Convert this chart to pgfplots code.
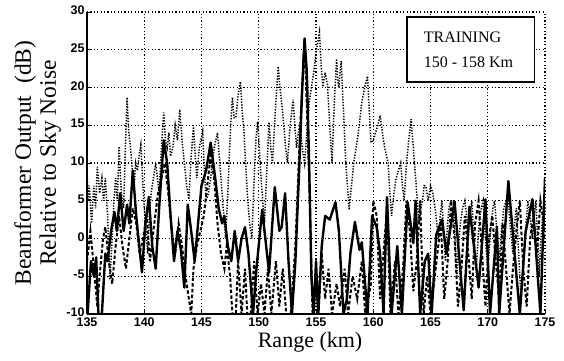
\documentclass[border=0pt]{standalone}
\usepackage{pgfplots}
\pgfplotsset{compat=1.18}
\usepackage{fontspec}
\setmainfont{Liberation Serif}
\newfontfamily\ticksans{Liberation Sans}
\begin{document}
\begin{tikzpicture}
\path[use as bounding box] (-87pt,-46pt) rectangle (477pt,314pt);
\begin{axis}[
  at={(0pt,0pt)}, anchor=south west,
  scale only axis, width=458pt, height=302pt,
  xmin=135, xmax=175, ymin=-10, ymax=30,
  xtick={135,140,...,175}, ytick={-10,-5,...,30},
  axis x line*=bottom, axis y line*=left,
  axis line style={line width=1.6pt,-},
  grid=major,
  major grid style={black, line width=1.2pt, dash pattern=on 1.2pt off 2.2pt},
  tick style={black, line width=1pt},
  major tick length=3pt,
  tick align=inside,
  /pgf/number format/assume math mode=true,
  ticklabel style={font=\ticksans\bfseries\fontsize{12.5}{12.5}\selectfont},
  xticklabel style={yshift=-0.5pt},
  yticklabel style={xshift=1pt, yshift=1.5pt},
  xlabel={Range (km)},
  xlabel style={at={(axis description cs:0.487,-0.095)}, anchor=center, font=\fontsize{22}{24}\selectfont},
  ylabel={Beamformer Output~~(dB)\\Relative to Sky Noise},
  ylabel style={at={(axis description cs:-0.108,0.5)}, anchor=center, align=center, font=\fontsize{23.5}{25}\selectfont},
  clip=true,
]
% dotted series
\addplot[black, line width=1.5pt, dash pattern=on 1.3pt off 1.5pt] coordinates {
(135.0,9) (135.1,5) (135.2,7) (135.4,2) (135.6,7) (135.75,4) (135.9,9.5) (136.1,6) (136.3,8) (136.45,5) (136.6,8) (136.8,3) (137.0,-5.5) (137.2,0) (137.35,5) (137.5,8) (137.65,5) (137.8,12.2) (138.0,6) (138.2,4) (138.35,12) (138.5,18.7) (138.65,14) (138.8,12) (139.1,6.5) (139.25,10) (139.4,9) (139.55,11) (139.7,12.4) (140.0,4) (140.3,-2) (140.45,3) (140.6,6) (140.8,8) (141.0,10) (141.3,6) (141.5,12) (141.7,16.7) (141.85,13) (142.0,12) (142.15,14) (142.3,10.9) (142.5,12) (142.7,15) (142.9,13) (143.1,17.1) (143.3,13) (143.5,10) (143.7,7) (143.9,5.2) (144.1,11) (144.3,14.8) (144.45,11) (144.6,8) (144.8,12) (145.1,14.2) (145.25,9) (145.4,5) (145.6,6) (145.8,8) (146.1,12) (146.4,14) (146.6,10) (146.8,6) (147.1,0) (147.3,6) (147.4,10) (147.55,15) (147.7,18.7) (147.85,16) (148.0,16) (148.2,19) (148.4,20.8) (148.55,17) (148.7,14.4) (148.85,10) (149.0,6) (149.2,2) (149.4,0) (149.6,8) (149.75,13) (149.9,15.5) (150.05,12) (150.2,8) (150.5,2) (150.7,9) (150.9,15.4) (151.05,12) (151.2,10) (151.45,17) (151.7,22.8) (151.85,20) (152.0,18) (152.2,14.8) (152.35,12) (152.5,10) (152.75,15) (153.0,18.4) (153.15,15) (153.3,12) (153.45,14) (153.6,15) (153.8,12) (154.0,10) (154.2,14) (154.4,18) (154.6,20) (154.8,22) (155.05,25) (155.3,27.3) (155.45,23) (155.6,20.1) (155.8,22) (156.0,20.4) (156.2,15) (156.4,10) (156.6,18) (156.8,23.8) (156.9,21) (157.0,20) (157.1,22) (157.2,23.5) (157.3,20) (157.4,17) (157.6,10) (157.9,3.8) (158.1,7) (158.3,10) (158.5,12) (158.7,14) (158.85,16) (159.0,18) (159.25,20) (159.5,21.5) (159.65,17) (159.8,12.7) (160.0,13) (160.2,14) (160.4,15) (160.6,16.3) (160.8,14) (161.0,12) (161.15,11) (161.3,10) (161.45,6) (161.6,3) (161.8,6) (162.0,8) (162.2,9) (162.4,10) (162.55,7) (162.7,5) (162.9,10) (163.1,13) (163.3,15.8) (163.5,12) (163.7,8) (163.85,5) (164.0,2) (164.15,4) (164.3,5) (164.45,7) (164.6,6.9) (164.8,5) (165.0,7) (165.2,6) (165.4,4) (165.55,2) (165.7,0) (165.85,3) (166.0,5) (166.15,1) (166.3,-3) (166.45,1) (166.6,4) (166.8,5) (167.0,5) (167.15,0) (167.3,-5) (167.45,-1) (167.6,2) (167.8,4) (168.0,5) (168.15,3) (168.3,0) (168.45,3) (168.6,5) (168.8,0) (169.0,-4) (169.15,0) (169.3,3) (169.45,4) (169.6,5) (169.8,0) (170.0,-4) (170.15,-1) (170.3,2) (170.45,4) (170.6,5) (170.8,1) (171.0,-3) (171.2,1) (171.4,4) (171.6,5) (171.8,5) (172.0,1) (172.2,-2) (172.35,2) (172.5,4) (172.7,-2) (172.9,-8) (173.05,-5) (173.2,-2) (173.35,2) (173.5,5) (173.7,3) (173.9,0) (174.05,3) (174.2,5) (174.35,0) (174.5,-5) (174.65,0) (174.8,3) (175.0,5)
};
% dashed series
\addplot[black, line width=2pt, dash pattern=on 3.5pt off 2.2pt] coordinates {
(135.0,-3) (135.3,1) (135.6,-4) (135.9,-9) (136.1,-5) (136.4,0) (136.6,1.5) (136.9,-3) (137.2,-6) (137.5,-1) (137.8,3) (138.1,-1) (138.4,-4) (138.7,0) (139.0,4) (139.3,2) (139.6,-2) (139.9,0) (140.2,3) (140.5,-3) (140.8,1) (141.2,6) (141.5,8) (141.8,10) (142.1,6) (142.4,1) (142.7,-2) (143.0,2) (143.3,-1) (143.6,-5) (143.9,-8) (144.1,-10) (144.3,-4) (144.6,-1) (144.9,1) (145.2,3) (145.5,7) (145.8,11) (146.1,8) (146.4,2) (146.7,-2) (147.0,-4) (147.2,-1) (147.5,-5) (147.7,-10) (148.0,-10) (148.2,-3) (148.5,-10) (148.8,-4) (149.0,-10) (149.3,-10) (149.6,-3) (149.9,-10) (150.2,-6) (150.5,-10) (150.8,-4) (151.1,-10) (151.5,-3) (151.8,-9) (152.1,-4) (152.4,-10) (152.8,-10) (153.2,-1) (153.6,14) (153.9,23.5) (154.1,22) (154.4,8) (154.7,-10) (155.0,-6) (155.2,-10) (155.5,-2) (155.8,-8) (156.1,-4) (156.4,-10) (156.8,-6) (157.1,-9) (157.5,-4) (157.8,-10) (158.2,-5) (158.6,-8) (159.0,-3) (159.3,-10) (159.8,-6) (160.0,5) (160.3,3) (160.6,-8) (160.9,-2) (161.2,4) (161.5,-10) (161.9,-3) (162.2,-10) (162.6,-4) (162.9,5) (163.2,1) (163.5,-7) (163.8,-3) (164.1,5) (164.4,-10) (164.7,-5) (165.0,-10) (165.3,-6) (165.6,-2) (165.9,2) (166.2,-8) (166.5,-3) (166.8,5) (167.1,0) (167.4,-9) (167.7,-4) (168.0,3) (168.3,-2) (168.6,-8) (168.9,2) (169.2,5) (169.5,-2) (169.8,-9) (170.1,0) (170.4,3) (170.7,-3) (171.0,-8) (171.3,2) (171.6,-4) (171.9,-10) (172.2,-4) (172.5,1) (172.8,5) (173.1,-4) (173.4,-9) (173.7,0) (174.0,3) (174.3,-2) (174.6,5) (174.9,2) (175.0,0)
};
% solid series
\addplot[black, line width=2.4pt, line join=round] coordinates {
(135.05,-10) (135.35,-3) (135.6,-5) (135.8,-2.5) (136.0,-10) (136.3,-10) (136.6,-2) (136.8,-3) (137.1,1) (137.4,3.5) (137.6,1) (137.9,6) (138.2,1) (138.5,4.5) (138.7,2) (139.0,9) (139.3,3) (139.5,0) (139.8,-4.5) (140.1,2) (140.4,5.5) (140.7,-1) (141.0,-4) (141.3,4) (141.7,13) (142.0,10) (142.3,3) (142.6,-3) (142.9,1) (143.2,-1.5) (143.5,-6.5) (143.8,4.5) (144.1,1) (144.4,-3) (144.7,2) (145.0,7) (145.4,9) (145.8,12.7) (146.2,8) (146.5,4) (146.8,2) (147.0,3) (147.3,-1) (147.6,-3) (147.9,1) (148.2,-3) (148.5,0) (148.8,1.5) (149.1,-2) (149.5,-10) (149.8,-4) (150.3,3.8) (150.9,-4.5) (151.4,6.8) (151.8,1) (152.0,1.5) (152.3,6) (152.6,-3) (152.9,-10) (153.2,-3) (153.5,8) (153.8,20) (154.0,26.5) (154.2,22) (154.4,10) (154.6,-5) (154.8,-10) (155.0,-3) (155.2,-10) (155.5,-1) (155.8,3) (156.2,2.5) (156.7,4.8) (157.0,1) (157.4,-10) (157.7,-8) (158.0,-2) (158.4,2.2) (158.8,-1.5) (159.0,-0.5) (159.5,-10) (159.9,3) (160.3,1.5) (160.6,-2) (160.9,-10) (161.2,5.5) (161.6,-10) (162.1,-1) (162.5,-10) (163.0,4.8) (163.5,-0.6) (163.7,5) (164.1,-10) (164.5,-3) (164.8,-2) (165.1,-10) (165.5,0.5) (166.0,2.5) (166.4,-2) (167.1,4.9) (167.9,-9.5) (168.4,4.2) (169.2,-6.5) (169.8,5.2) (170.2,-10) (170.8,1.6) (171.0,-10) (171.8,7.6) (172.8,-10) (173.3,0.8) (173.9,5.2) (174.6,-10) (175.0,8)
};
\draw[black, line width=1.6pt, fill=white] (axis cs:162.95,29.3) rectangle (axis cs:174.1,20.7);
\node[anchor=west, inner sep=0pt, font=\fontsize{16}{17}\selectfont] at (axis cs:164.4,26.7) {TRAINING};
\node[anchor=west, inner sep=0pt, font=\fontsize{16}{17}\selectfont] at (axis cs:164.4,23.3) {150 - 158 Km};
\end{axis}
\end{tikzpicture}
\end{document}
